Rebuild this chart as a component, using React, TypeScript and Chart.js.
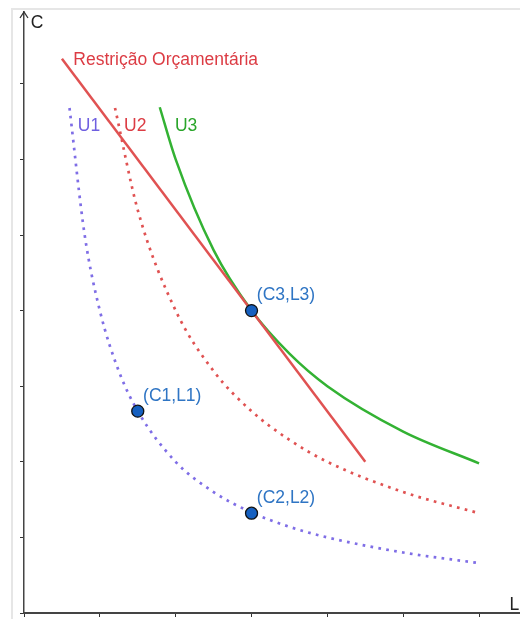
import React, { useEffect, useRef } from "react";
import { Chart, registerables } from "chart.js";

Chart.register(...registerables);

const X_MAX = 6.54;
const Y_MAX = 7.95;

// Indifference curve U1 (purple dotted)
const u1X = [0.6, 0.8, 1.0, 1.25, 1.5, 2.0, 2.5, 3.0, 3.5, 4.0, 5.0, 6.0];
const u1Y = [6.68, 5.0, 4.0, 3.2, 2.67, 2.0, 1.6, 1.33, 1.14, 1.0, 0.8, 0.66];
// Indifference curve U2 (red dotted)
const u2X = [1.2, 1.5, 2.0, 2.5, 3.0, 3.5, 4.0, 5.0, 6.0];
const u2Y = [6.68, 5.33, 4.0, 3.2, 2.67, 2.29, 2.0, 1.6, 1.32];
// Indifference curve U3 (green solid)
const u3X = [1.79, 2.0, 2.5, 3.0, 3.5, 4.0, 5.0, 6.0];
const u3Y = [6.69, 6.0, 4.8, 4.0, 3.43, 3.0, 2.4, 1.98];
// Budget line
const budgetX = [0.5, 4.5];
const budgetY = [7.33, 2.0];
// Marked points
const pointNames = ["(C1,L1)", "(C2,L2)", "(C3,L3)"];
const pointX = [1.5, 3.0, 3.0];
const pointY = [2.67, 1.32, 4.0];

// Text labels (data coordinates)
const labelTexts = ["Restrição Orçamentária", "U1", "U2", "U3", "C", "L"];
const labelX = [0.65, 0.71, 1.32, 1.99, 0.09, 6.4];
const labelY = [7.31, 6.44, 6.44, 6.44, 7.8, 0.11];

const RED = "#e05252";
const RED_TEXT = "#dc3c44";
const PURPLE = "#7f6ee6";
const PURPLE_TEXT = "#6f5fe0";
const GREEN = "#33b233";
const GREEN_TEXT = "#2aa52a";
const BLUE_TEXT = "#2f75c4";
const labelColors = [RED_TEXT, PURPLE_TEXT, RED_TEXT, GREEN_TEXT, "#222", "#222"];

const zip = (xs: number[], ys: number[]) => xs.map((x, i) => ({ x, y: ys[i] }));

const FONT = "'Liberation Sans', Arial, sans-serif";

const labelPlugin = {
  id: "labels",
  afterDatasetsDraw(chart: any) {
    const { ctx, scales } = chart;
    const xs = scales.x;
    const ys = scales.y;
    ctx.save();
    // arrow head on y axis
    const ax = xs.getPixelForValue(0);
    const ay = ys.getPixelForValue(Y_MAX);
    ctx.strokeStyle = "#333";
    ctx.lineWidth = 1.3;
    ctx.beginPath();
    ctx.moveTo(ax - 4, ay + 6);
    ctx.lineTo(ax, ay);
    ctx.lineTo(ax + 4, ay + 6);
    ctx.stroke();

    ctx.textBaseline = "middle";
    ctx.textAlign = "left";
    ctx.font = `17.5px ${FONT}`;
    labelTexts.forEach((t, i) => {
      ctx.fillStyle = labelColors[i];
      ctx.fillText(t, xs.getPixelForValue(labelX[i]), ys.getPixelForValue(labelY[i]));
    });
    ctx.fillStyle = BLUE_TEXT;
    pointNames.forEach((t, i) => {
      ctx.fillText(t, xs.getPixelForValue(pointX[i] + 0.07), ys.getPixelForValue(pointY[i] + 0.2));
    });
    ctx.restore();
  },
};

export default function App() {
  const ref = useRef<HTMLCanvasElement | null>(null);
  useEffect(() => {
    if (!ref.current) return;
    const chart = new Chart(ref.current, {
      type: "scatter",
      data: {
        datasets: [
          {
            label: "Pontos",
            data: zip(pointX, pointY),
            showLine: false,
            pointRadius: 6,
            pointBackgroundColor: "#1660c0",
            pointBorderColor: "#111",
            pointBorderWidth: 1.3,
            order: 0,
          },
          {
            label: "Restrição Orçamentária",
            data: zip(budgetX, budgetY),
            showLine: true,
            borderColor: RED,
            borderWidth: 2.5,
            pointRadius: 0,
            order: 1,
          },
          {
            label: "U3",
            data: zip(u3X, u3Y),
            showLine: true,
            borderColor: GREEN,
            borderWidth: 2.5,
            pointRadius: 0,
            cubicInterpolationMode: "monotone",
            order: 2,
          },
          {
            label: "U2",
            data: zip(u2X, u2Y),
            showLine: true,
            borderColor: RED,
            borderWidth: 2.7,
            borderDash: [2.7, 5.3],
            pointRadius: 0,
            cubicInterpolationMode: "monotone",
            order: 3,
          },
          {
            label: "U1",
            data: zip(u1X, u1Y),
            showLine: true,
            borderColor: PURPLE,
            borderWidth: 2.7,
            borderDash: [2.7, 5.3],
            pointRadius: 0,
            cubicInterpolationMode: "monotone",
            order: 4,
          },
        ],
      },
      options: {
        animation: false,
        responsive: false,
        devicePixelRatio: 1,
        layout: { autoPadding: false, padding: { left: 20, top: 12, right: 0, bottom: 2 } },
        plugins: { legend: { display: false }, tooltip: { enabled: false } },
        scales: {
          x: {
            type: "linear",
            min: 0,
            max: X_MAX,
            ticks: { display: false, stepSize: 1, includeBounds: false },
            grid: { drawOnChartArea: false, drawTicks: true, tickLength: 4, color: "#333", lineWidth: 1 },
            border: { display: true, color: "#444", width: 2 },
          },
          y: {
            type: "linear",
            min: 0,
            max: Y_MAX,
            ticks: { display: false, stepSize: 1, includeBounds: false },
            grid: { drawOnChartArea: false, drawTicks: true, tickLength: 4, color: "#333", lineWidth: 1 },
            border: { display: true, color: "#444", width: 1.5 },
          },
        },
      },
      plugins: [labelPlugin],
    });
    return () => chart.destroy();
  }, []);
  return (
    <div style={{ position: "fixed", left: 0, top: 0, width: 520, height: 619, background: "#fff" }}>
      <div
        style={{
          position: "absolute",
          left: 11,
          top: 8,
          width: 509,
          height: 611,
          borderLeft: "2px solid #e6e6e6",
          borderTop: "2px solid #e6e6e6",
        }}
      />
      <canvas ref={ref} width={520} height={619} style={{ position: "absolute", left: 0, top: 0 }} />
    </div>
  );
}
